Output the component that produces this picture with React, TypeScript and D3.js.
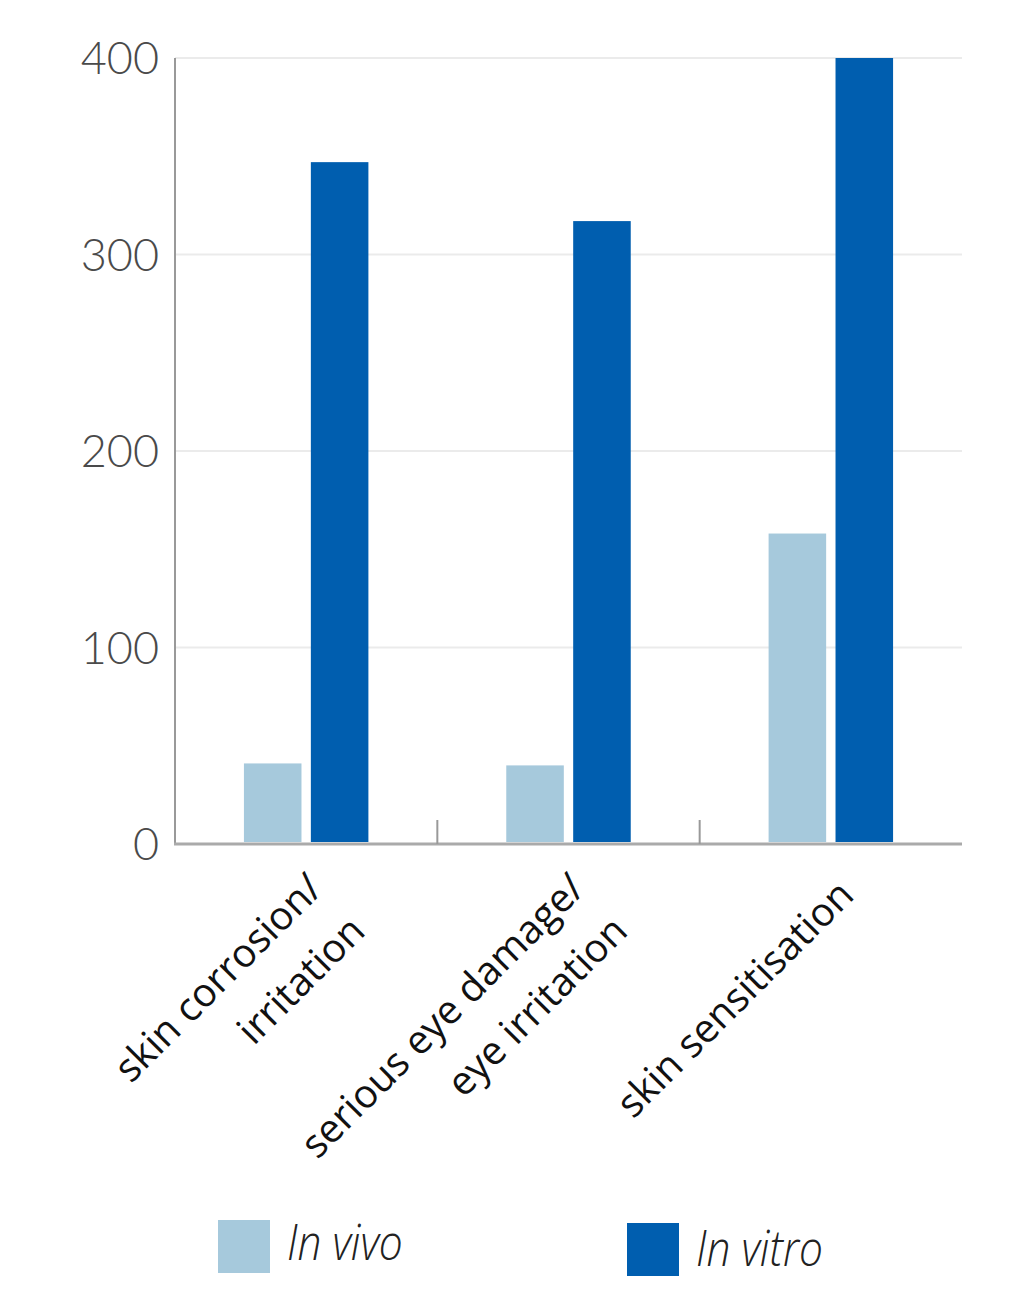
import React, { useEffect, useRef } from "react";
import * as d3 from "d3";

// categories, split into label lines as shown under the axis
const categories = ["skin corrosion/irritation", "serious eye damage/eye irritation", "skin sensitisation"];
const categoryLines = [
  ["skin corrosion/", "irritation"],
  ["serious eye damage/", "eye irritation"],
  ["skin sensitisation"],
];
const seriesNames = ["In vivo", "In vitro"];
const inVivo = [41, 40, 158];
const inVitro = [347, 317, 400];
const yTicks = [0, 100, 200, 300, 400];
const seriesColors = ["#A6C9DC", "#005EAF"];

const W = 1022;
const H = 1308;

const App = () => {
  const svgRef = useRef<SVGSVGElement | null>(null);

  useEffect(() => {
    const svg = d3.select(svgRef.current);
    svg.selectAll("*").remove();

    const margin = { top: 58, right: 60, bottom: 464, left: 175 };

    // outer band per category, inner band per series
    const x0 = d3.scaleBand().domain(categories).range([margin.left, W - margin.right]).paddingInner(0).paddingOuter(0);
    const x1 = d3.scaleBand().domain(seriesNames).range([0, x0.bandwidth()]).paddingInner(0.14).paddingOuter(1.03);
    const y = d3.scaleLinear().domain([0, 400]).range([H - margin.bottom, margin.top]);

    const values = [inVivo, inVitro];

    // gridlines
    svg.append("g")
      .selectAll("line")
      .data(yTicks.filter(d => d > 0))
      .join("line")
      .attr("x1", margin.left)
      .attr("x2", W - margin.right)
      .attr("y1", d => y(d))
      .attr("y2", d => y(d))
      .attr("stroke", "#ebebeb")
      .attr("stroke-width", 2);

    // y tick labels
    svg.append("g")
      .selectAll("text")
      .data(yTicks)
      .join("text")
      .attr("x", 159)
      .attr("y", d => y(d))
      .attr("dy", "0.36em")
      .attr("text-anchor", "end")
      .attr("font-family", "Lato, 'Open Sans', sans-serif")
      .attr("font-weight", 300)
      .attr("font-size", 45)
      .attr("fill", "#4a4a4a")
      .text(d => d);

    // bars
    const groups = svg.append("g")
      .selectAll("g")
      .data(categories)
      .join("g")
      .attr("transform", d => `translate(${x0(d)},0)`);

    groups.selectAll("rect")
      .data((c, i) => seriesNames.map((s, k) => ({ s, v: values[k][i], k })))
      .join("rect")
      .attr("x", d => x1(d.s)!)
      .attr("width", x1.bandwidth())
      .attr("y", d => y(d.v))
      .attr("height", d => y(0) - y(d.v) - 2)
      .attr("fill", d => seriesColors[d.k]);

    // left axis line
    svg.append("line")
      .attr("x1", margin.left).attr("x2", margin.left)
      .attr("y1", y(400)).attr("y2", y(0))
      .attr("stroke", "#999").attr("stroke-width", 2);

    // bottom axis with category separators
    svg.append("line")
      .attr("x1", margin.left - 1).attr("x2", W - margin.right)
      .attr("y1", y(0)).attr("y2", y(0))
      .attr("stroke", "#aaa").attr("stroke-width", 3);

    svg.append("g")
      .selectAll("line")
      .data(categories.slice(1))
      .join("line")
      .attr("x1", d => x0(d)!)
      .attr("x2", d => x0(d)!)
      .attr("y1", y(0) - 24)
      .attr("y2", y(0))
      .attr("stroke", "#999")
      .attr("stroke-width", 2);

    // rotated category labels
    svg.append("g")
      .selectAll("text")
      .data(categories)
      .join("text")
      .attr("transform", d => `translate(${x0(d)! + x0.bandwidth() / 2 + 25},${y(0) + 53}) rotate(-45)`)
      .attr("text-anchor", "end")
      .attr("font-family", "'Open Sans', sans-serif")
      .attr("font-size", 39.5)
      .attr("fill", "#111")
      .each(function (d, i) {
        const lines = categoryLines[i];
        d3.select(this)
          .selectAll("tspan")
          .data(lines)
          .join("tspan")
          .attr("x", 0)
          .attr("dy", (l, j) => (j === 0 ? (lines.length > 1 ? "-0.23em" : 0) : "1.52em"))
          .text(l => l);
      });

    // legend
    const legendPos = [
      { x: 218, y: 1220, base: 40 },
      { x: 627, y: 1223, base: 43 },
    ];
    const legend = svg.append("g")
      .selectAll("g")
      .data(seriesNames)
      .join("g")
      .attr("transform", (d, i) => `translate(${legendPos[i].x},${legendPos[i].y})`);

    legend.append("rect")
      .attr("width", 52)
      .attr("height", 53)
      .attr("fill", (d, i) => seriesColors[i]);

    legend.append("text")
      .attr("transform", (d, i) => `translate(69,${legendPos[i].base}) scale(0.85,1)`)
      .attr("font-family", "'Open Sans', sans-serif")
      .attr("font-style", "italic")
      .attr("font-weight", 300)
      .attr("font-size", 50)
      .attr("fill", "#222")
      .text(d => d);
  }, []);

  return (
    <svg
      ref={svgRef}
      width={W}
      height={H}
      style={{ position: "absolute", left: 0, top: 0, background: "#fff" }}
    />
  );
};

export default App;
